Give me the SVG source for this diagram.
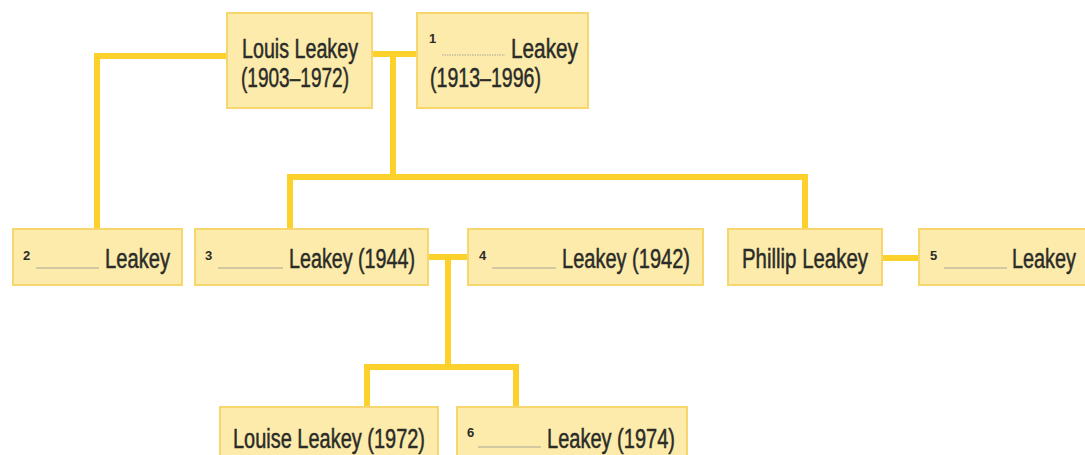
<svg xmlns="http://www.w3.org/2000/svg" width="1085" height="455" viewBox="0 0 1085 455">
<style>
.box{fill:#fcebab;stroke:#f8d66e;stroke-width:2}
.t{font-family:"Liberation Sans",Arial,sans-serif;font-size:27px;fill:#2b2b28;stroke:#2b2b28;stroke-width:0.5}
.n{font-family:"Liberation Sans",Arial,sans-serif;font-size:13px;font-weight:bold;fill:#2b2b28}
.b{stroke:#a9a796;stroke-width:1.2}
.c{fill:none;stroke:#fdd12c;stroke-width:6}
</style>
<rect width="1085" height="455" fill="#ffffff"/>
<g id="connectors">
<path class="c" d="M372 54H417"/>
<path class="c" d="M393 54V177"/>
<path class="c" d="M227 56H97V229"/>
<path class="c" d="M290 229V177H805V229"/>
<path class="c" d="M428 257H468"/>
<path class="c" d="M448 257V367"/>
<path class="c" d="M367 407V367H516V407"/>
<path class="c" d="M882 258H919"/>
</g>
<g id="louis">
<rect class="box" x="227" y="13" width="145" height="95"/>
<text class="t" x="242" y="58" textLength="116" lengthAdjust="spacingAndGlyphs">Louis Leakey</text>
<text class="t" x="241" y="87" textLength="108" lengthAdjust="spacingAndGlyphs">(1903–1972)</text>
</g>
<g id="n1">
<rect class="box" x="417" y="13" width="171" height="95"/>
<text class="n" x="429" y="43">1</text>
<line class="b" x1="442" y1="55" x2="505" y2="55" stroke-dasharray="1.5 1"/>
<text class="t" x="511" y="58" textLength="67" lengthAdjust="spacingAndGlyphs">Leakey</text>
<text class="t" x="430" y="87" textLength="111" lengthAdjust="spacingAndGlyphs">(1913–1996)</text>
</g>
<g id="n2">
<rect class="box" x="13" y="229" width="169" height="56"/>
<text class="n" x="23" y="260">2</text>
<line class="b" x1="36" y1="268" x2="99" y2="268"/>
<text class="t" x="105" y="268" textLength="65" lengthAdjust="spacingAndGlyphs">Leakey</text>
</g>
<g id="n3">
<rect class="box" x="195" y="229" width="233" height="56"/>
<text class="n" x="205" y="260">3</text>
<line class="b" x1="218" y1="268" x2="283" y2="268"/>
<text class="t" x="289" y="268" textLength="126" lengthAdjust="spacingAndGlyphs">Leakey (1944)</text>
</g>
<g id="n4">
<rect class="box" x="468" y="229" width="235" height="56"/>
<text class="n" x="479" y="260">4</text>
<line class="b" x1="492" y1="268" x2="556" y2="268"/>
<text class="t" x="562" y="268" textLength="128" lengthAdjust="spacingAndGlyphs">Leakey (1942)</text>
</g>
<g id="phillip">
<rect class="box" x="728" y="229" width="154" height="56"/>
<text class="t" x="742" y="268" textLength="126" lengthAdjust="spacingAndGlyphs">Phillip Leakey</text>
</g>
<g id="n5">
<rect class="box" x="919" y="229" width="175" height="56"/>
<text class="n" x="930" y="260">5</text>
<line class="b" x1="944" y1="268" x2="1007" y2="268"/>
<text class="t" x="1012" y="268" textLength="64" lengthAdjust="spacingAndGlyphs">Leakey</text>
</g>
<g id="louise">
<rect class="box" x="220" y="407" width="218" height="60"/>
<text class="t" x="233" y="448" textLength="192" lengthAdjust="spacingAndGlyphs">Louise Leakey (1972)</text>
</g>
<g id="n6">
<rect class="box" x="457" y="407" width="230" height="60"/>
<text class="n" x="467" y="437">6</text>
<line class="b" x1="478" y1="447" x2="541" y2="447"/>
<text class="t" x="547" y="448" textLength="128" lengthAdjust="spacingAndGlyphs">Leakey (1974)</text>
</g>
</svg>
